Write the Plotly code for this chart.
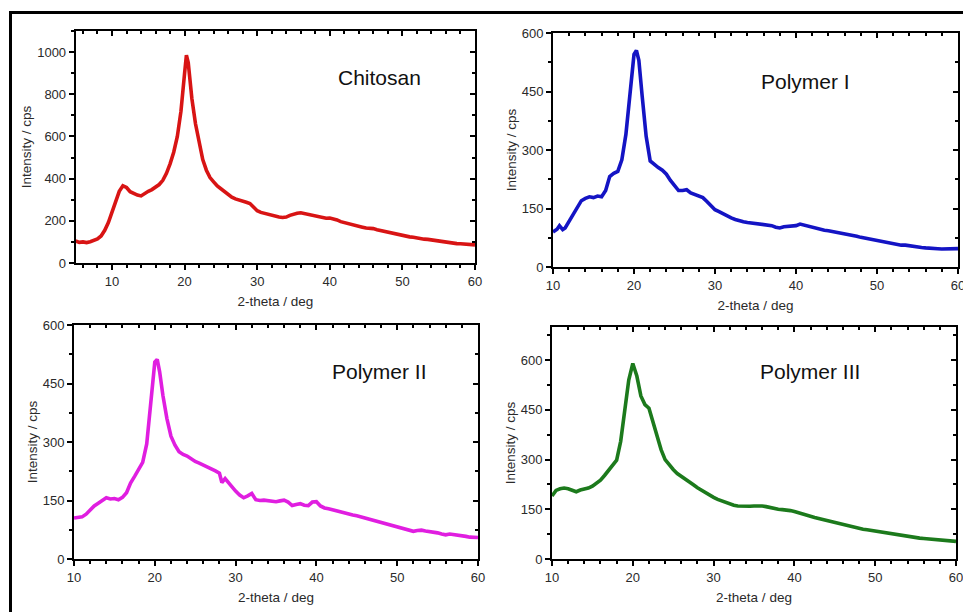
import plotly.graph_objects as go

# ---------------- data ----------------
chitosan_x = [5.0, 5.5, 6.0, 6.5, 7.0, 7.5, 8.0, 8.5, 9.0, 9.5, 10.0, 10.5, 11.0, 11.5, 12.0, 12.5,
              13.0, 13.5, 14.0, 14.5, 15.0, 15.5, 16.0, 16.5, 17.0, 17.5, 18.0, 18.5, 19.0, 19.5,
              20.0, 20.25, 20.5, 21.0, 21.5, 22.0, 22.5, 23.0, 23.5, 24.0, 24.5, 25.0, 25.5, 26.0,
              26.5, 27.0, 27.5, 28.0, 28.5, 29.0, 29.5, 30.0, 30.5, 31.0, 31.5, 32.0, 32.5, 33.0,
              33.5, 34.0, 34.5, 35.0, 35.5, 36.0, 36.5, 37.0, 37.5, 38.0, 38.5, 39.0, 39.5, 40.0,
              40.5, 41.0, 41.5, 42.0, 42.5, 43.0, 43.5, 44.0, 44.5, 45.0, 45.5, 46.0, 46.5, 47.0,
              47.5, 48.0, 48.5, 49.0, 49.5, 50.0, 50.5, 51.0, 51.5, 52.0, 52.5, 53.0, 53.5, 54.0,
              54.5, 55.0, 55.5, 56.0, 56.5, 57.0, 57.5, 58.0, 58.5, 59.0, 59.5, 60.0]
chitosan_y = [104, 98, 100, 97, 101, 106, 114, 128, 155, 192, 240, 292, 340, 366, 358, 338,
              328, 322, 318, 330, 340, 348, 358, 372, 392, 425, 470, 525, 600, 720,
              900, 985, 950, 780, 660, 565, 490, 440, 405, 385, 365, 352, 338, 325,
              312, 304, 300, 294, 288, 282, 262, 248, 240, 235, 230, 226, 222, 218,
              216, 218, 226, 232, 236, 238, 234, 230, 226, 223, 218, 215, 212, 213,
              210, 204, 196, 191, 186, 181, 178, 175, 170, 166, 165, 163, 158, 154,
              151, 148, 143, 138, 133, 129, 127, 124, 122, 118, 115, 113, 112, 109,
              106, 104, 101, 99, 96, 93, 92, 91, 90, 89, 88, 86]

poly1_x = [10.0, 10.5, 10.8, 11.2, 11.5, 12.0, 12.5, 13.0, 13.5, 14.0, 14.5, 15.0, 15.5, 16.0,
           16.5, 17.0, 17.5, 18.0, 18.5, 19.0, 19.5, 20.0, 20.3, 20.6, 21.0, 21.5, 22.0, 22.5,
           23.0, 23.5, 24.0, 24.5, 25.0, 25.5, 26.0, 26.5, 27.0, 27.5, 28.0, 28.5, 29.0, 29.5,
           30.0, 30.5, 31.0, 31.5, 32.0, 32.5, 33.0, 33.5, 34.0, 34.5, 35.0, 35.5, 36.0, 36.5,
           37.0, 37.5, 38.0, 38.5, 39.0, 39.5, 40.0, 40.5, 41.0, 41.5, 42.0, 42.5, 43.0, 43.5,
           44.0, 44.5, 45.0, 45.5, 46.0, 46.5, 47.0, 47.5, 48.0, 48.5, 49.0, 49.5, 50.0, 50.5,
           51.0, 51.5, 52.0, 52.5, 53.0, 53.5, 54.0, 54.5, 55.0, 55.5, 56.0, 56.5, 57.0, 57.5,
           58.0, 58.5, 59.0, 59.5, 60.0]
poly1_y = [90, 97, 106, 96, 100, 118, 135, 155, 170, 176, 180, 178, 182, 180,
           196, 232, 240, 245, 275, 340, 440, 545, 555, 530, 440, 335, 272, 262,
           255, 248, 238, 222, 208, 196, 196, 198, 190, 186, 180, 178, 168, 156,
           147, 142, 136, 130, 126, 122, 118, 116, 114, 113, 112, 111, 110, 109,
           106, 102, 100, 103, 104, 105, 106, 110, 107, 104, 103, 100, 97, 94,
           93, 91, 90, 88, 86, 85, 82, 79, 76, 74, 72, 69, 66, 64,
           62, 60, 58, 57, 56, 56, 54, 52, 51, 50, 49, 49, 48, 47,
           46, 46, 45, 46, 47]

poly2_x = [10.0, 10.5, 11.0, 11.5, 12.0, 12.5, 13.0, 13.5, 14.0, 14.5, 15.0, 15.5, 16.0, 16.5,
           17.0, 17.5, 18.0, 18.5, 19.0, 19.5, 20.0, 20.3, 20.6, 21.0, 21.5, 22.0, 22.5, 23.0,
           23.5, 24.0, 24.5, 25.0, 25.5, 26.0, 26.5, 27.0, 27.5, 28.0, 28.3, 28.7, 29.0, 29.5,
           30.0, 30.5, 31.0, 31.5, 32.0, 32.5, 33.0, 33.5, 34.0, 34.5, 35.0, 35.5, 36.0, 36.5,
           37.0, 37.5, 38.0, 38.5, 39.0, 39.5, 40.0, 40.5, 41.0, 41.5, 42.0, 42.5, 43.0, 43.5,
           44.0, 44.5, 45.0, 45.5, 46.0, 46.5, 47.0, 47.5, 48.0, 48.5, 49.0, 49.5, 50.0, 50.5,
           51.0, 51.5, 52.0, 52.5, 53.0, 53.5, 54.0, 54.5, 55.0, 55.5, 56.0, 56.5, 57.0, 57.5,
           58.0, 58.5, 59.0, 59.5, 60.0]
poly2_y = [105, 106, 108, 115, 127, 136, 143, 150, 157, 154, 155, 152, 158, 170,
           195, 212, 228, 248, 295, 410, 505, 512, 480, 420, 360, 315, 292, 275,
           268, 264, 256, 250, 246, 241, 238, 233, 226, 220, 196, 206, 198, 186,
           174, 164, 157, 162, 168, 152, 150, 151, 149, 148, 147, 149, 151, 146,
           137, 140, 142, 138, 137, 146, 147, 136, 131, 129, 126, 124, 121, 119,
           116, 113, 111, 108, 105, 103, 100, 97, 94, 92, 88, 86, 83, 79,
           75, 72, 71, 73, 74, 72, 71, 69, 67, 64, 62, 64, 63, 61,
           60, 58, 56, 56, 55]

poly3_x = [10.0, 10.5, 11.0, 11.5, 12.0, 12.5, 13.0, 13.5, 14.0, 14.5, 15.0, 15.5, 16.0, 16.5,
           17.0, 17.5, 18.0, 18.5, 19.0, 19.5, 20.0, 20.5, 21.0, 21.5, 22.0, 22.5, 23.0, 23.5,
           24.0, 24.5, 25.0, 25.5, 26.0, 26.5, 27.0, 27.5, 28.0, 28.5, 29.0, 29.5, 30.0, 30.5,
           31.0, 31.5, 32.0, 32.5, 33.0, 33.5, 34.0, 34.5, 35.0, 35.5, 36.0, 36.5, 37.0, 37.5,
           38.0, 38.5, 39.0, 39.5, 40.0, 40.5, 41.0, 41.5, 42.0, 42.5, 43.0, 43.5, 44.0, 44.5,
           45.0, 45.5, 46.0, 46.5, 47.0, 47.5, 48.0, 48.5, 49.0, 49.5, 50.0, 50.5, 51.0, 51.5,
           52.0, 52.5, 53.0, 53.5, 54.0, 54.5, 55.0, 55.5, 56.0, 56.5, 57.0, 57.5, 58.0, 58.5,
           59.0, 59.5, 60.0]
poly3_y = [190, 207, 212, 214, 212, 207, 203, 208, 210, 214, 220, 228, 238, 252,
           268, 285, 298, 355, 445, 540, 590, 552, 492, 466, 455, 410, 365, 330,
           300, 283, 270, 258, 250, 243, 235, 224, 215, 207, 200, 193, 186, 180,
           175, 170, 165, 162, 160, 159, 158, 159, 160, 161, 160, 158, 155, 152,
           150, 149, 148, 146, 143, 139, 135, 131, 128, 125, 122, 119, 115, 112,
           110, 106, 103, 100, 98, 96, 93, 90, 88, 86, 83, 81, 80, 78,
           76, 74, 72, 70, 68, 67, 65, 63, 62, 61, 60, 59, 58, 57,
           56, 54, 53]

panel_names = ["Chitosan", "Polymer I", "Polymer II", "Polymer III"]
colors = ["#d81414", "#1414c4", "#e01ee0", "#1c7a1c"]
x_ranges = [[5, 60], [10, 60], [10, 60], [10, 60]]
y_ranges = [[0, 1100], [0, 600], [0, 600], [0, 700]]
y_dticks = [200, 150, 150, 150]
x_title = "2-theta / deg"
y_title = "Intensity / cps"

series = [(chitosan_x, chitosan_y), (poly1_x, poly1_y), (poly2_x, poly2_y), (poly3_x, poly3_y)]

# ---------------- layout geometry (pixels) ----------------
W, H = 963, 612
boxes = [(75.7, 475, 31, 263), (553, 958, 33, 267), (74, 478, 325, 559), (552, 956, 327, 559)]
label_pos = [(379, 77), (805, 82), (379, 371), (810, 371)]

FONT = "Liberation Sans, Arial, sans-serif"
TXT = "#2a2a2a"

fig = go.Figure()
layout = dict(
    width=W, height=H, margin=dict(l=0, r=0, t=0, b=0, autoexpand=False),
    paper_bgcolor="white", plot_bgcolor="white", showlegend=False,
    font=dict(family=FONT, size=13, color=TXT),
)

annotations = []
for i, ((xs, ys), c) in enumerate(zip(series, colors)):
    n = i + 1
    m = n + 4
    fig.add_trace(go.Scatter(x=xs, y=ys, mode="lines", line=dict(color=c, width=3.6),
                             xaxis=f"x{n}", yaxis=f"y{n}", hoverinfo="skip"))
    # empty traces so that the mirrored (top / right) axes get drawn
    fig.add_trace(go.Scatter(x=[], y=[], mode="lines", xaxis=f"x{m}", yaxis=f"y{n}",
                             hoverinfo="skip"))
    fig.add_trace(go.Scatter(x=[], y=[], mode="lines", xaxis=f"x{n}", yaxis=f"y{m}",
                             hoverinfo="skip"))
    x0, x1, yt, yb = boxes[i]
    xd = [x0 / W, x1 / W]
    yd = [1 - yb / H, 1 - yt / H]
    common = dict(showgrid=False, zeroline=False, showline=True, linecolor="black", linewidth=2,
                  tickcolor="black", tickwidth=1.5, ticklen=5, automargin=False)
    layout[f"xaxis{n}"] = dict(domain=xd, range=x_ranges[i], anchor=f"y{n}", dtick=10, tick0=0,
                               ticks="outside", ticklabeloverflow="allow",
                               minor=dict(dtick=2, tick0=0, ticks="outside", ticklen=3,
                                          tickcolor="black", tickwidth=1.5),
                               tickfont=dict(size=13, color=TXT),
                               title=dict(text=x_title, font=dict(size=13.5, color=TXT), standoff=9),
                               **common)
    layout[f"yaxis{n}"] = dict(domain=yd, range=y_ranges[i], anchor=f"x{n}", dtick=y_dticks[i],
                               tick0=0, ticks="outside",
                               minor=dict(dtick=y_dticks[i] / 2, tick0=0, ticks="outside",
                                          ticklen=3, tickcolor="black", tickwidth=1.5),
                               tickfont=dict(size=13, color=TXT),
                               title=dict(text=y_title, font=dict(size=13.5, color=TXT), standoff=2),
                               **common)
    layout[f"xaxis{m}"] = dict(overlaying=f"x{n}", side="top", anchor=f"y{n}", range=x_ranges[i],
                               dtick=10, tick0=0, ticks="inside", showticklabels=False,
                               minor=dict(dtick=2, tick0=0, ticks="inside", ticklen=3,
                                          tickcolor="black", tickwidth=1.5),
                               **common)
    layout[f"yaxis{m}"] = dict(overlaying=f"y{n}", side="right", anchor=f"x{n}", range=y_ranges[i],
                               dtick=y_dticks[i], tick0=0, ticks="inside", showticklabels=False,
                               minor=dict(dtick=y_dticks[i] / 2, tick0=0, ticks="inside",
                                          ticklen=3, tickcolor="black", tickwidth=1.5),
                               **common)
    lx, ly = label_pos[i]
    annotations.append(dict(text=panel_names[i], xref="paper", yref="paper",
                            x=lx / W, y=1 - ly / H, xanchor="center", yanchor="middle",
                            showarrow=False, font=dict(size=21, color="#111111", family=FONT)))

layout["annotations"] = annotations
# outer frame (only its left and top edges fall inside the picture)
fx, fy = 10.5 / W, 1 - 12.5 / H
layout["shapes"] = [
    dict(type="line", xref="paper", yref="paper", x0=fx, x1=fx, y0=0, y1=fy,
         line=dict(color="black", width=3)),
    dict(type="line", xref="paper", yref="paper", x0=fx - 1.5 / W, x1=1, y0=fy, y1=fy,
         line=dict(color="black", width=3)),
]
fig.update_layout(**layout)
fig.write_html("out.html")
